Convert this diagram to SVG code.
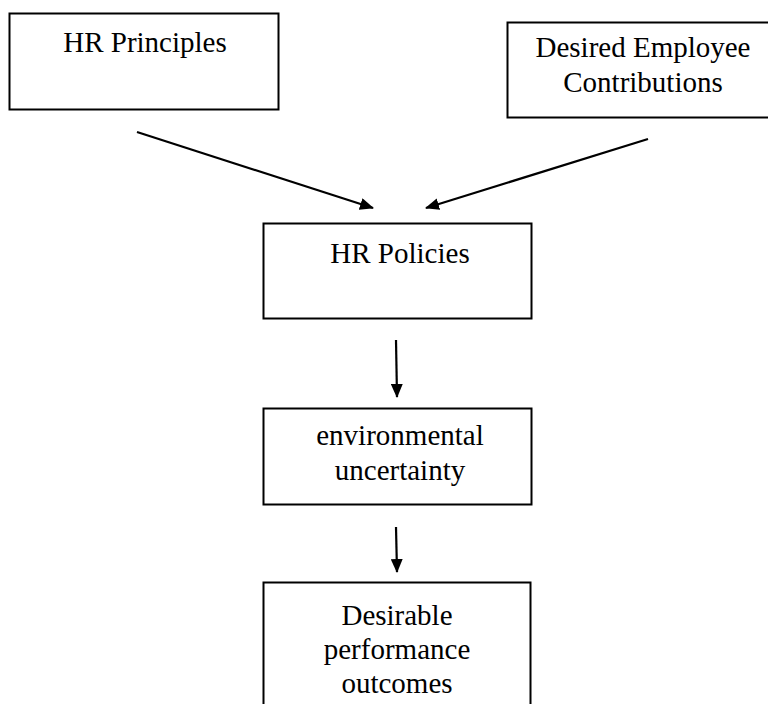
<svg xmlns="http://www.w3.org/2000/svg" width="768" height="704" viewBox="0 0 768 704">
  <defs>
    <marker id="ah" markerUnits="userSpaceOnUse" markerWidth="14" markerHeight="12" refX="13" refY="6" orient="auto">
      <path d="M0,0 L14,6 L0,12 Z" fill="#000"/>
    </marker>
    <style>
      .box { fill: #fff; stroke: #000; stroke-width: 2; }
      .lbl { font-family: "Liberation Serif", "Times New Roman", serif; font-size: 29px; fill: #000; text-anchor: middle; }
      .edge { stroke: #000; stroke-width: 2.2; fill: none; marker-end: url(#ah); }
    </style>
  </defs>
  <rect width="768" height="704" fill="#fff"/>
  <g id="principles">
    <rect class="box" x="9.5" y="13.5" width="269" height="96"/>
    <text class="lbl" x="145" y="52">HR Principles</text>
  </g>
  <g id="contributions">
    <rect class="box" x="507.5" y="22.5" width="275" height="95"/>
    <text class="lbl" x="643" y="57">Desired Employee</text>
    <text class="lbl" x="643" y="92">Contributions</text>
  </g>
  <g id="policies">
    <rect class="box" x="263.5" y="223.5" width="268" height="95"/>
    <text class="lbl" x="400" y="263">HR Policies</text>
  </g>
  <g id="uncertainty">
    <rect class="box" x="263.5" y="408.5" width="268" height="96"/>
    <text class="lbl" x="400" y="445">environmental</text>
    <text class="lbl" x="400" y="480">uncertainty</text>
  </g>
  <g id="outcomes">
    <rect class="box" x="263.5" y="582.5" width="267" height="140"/>
    <text class="lbl" x="397" y="625">Desirable</text>
    <text class="lbl" x="397" y="659">performance</text>
    <text class="lbl" x="397" y="693">outcomes</text>
  </g>
  <g id="connectors">
    <line class="edge" x1="137" y1="132" x2="373" y2="208"/>
    <line class="edge" x1="648" y1="139" x2="426" y2="208"/>
    <line class="edge" x1="396" y1="340" x2="397" y2="397"/>
    <line class="edge" x1="396" y1="527" x2="397" y2="572"/>
  </g>
</svg>
